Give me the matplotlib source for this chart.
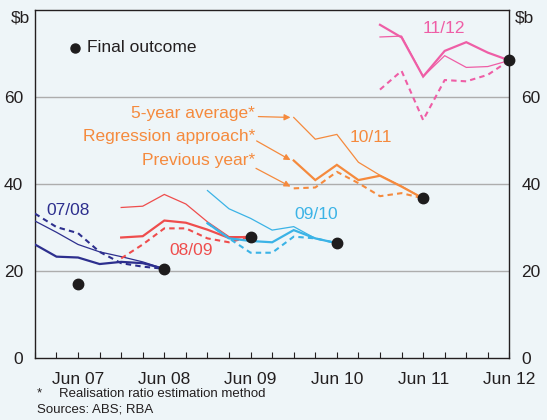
import matplotlib
matplotlib.use("Agg")
import matplotlib.pyplot as plt
import matplotlib.transforms as mtransforms

plt.rcParams['font.family'] = ['Liberation Sans', 'DejaVu Sans']

# ---------------- data ----------------
quarters = ['Dec-06', 'Mar-07', 'Jun-07', 'Sep-07', 'Dec-07', 'Mar-08', 'Jun-08',
            'Sep-08', 'Dec-08', 'Mar-09', 'Jun-09', 'Sep-09', 'Dec-09', 'Mar-10',
            'Jun-10', 'Sep-10', 'Dec-10', 'Mar-11', 'Jun-11', 'Sep-11', 'Dec-11',
            'Mar-12', 'Jun-12']
tick_labels = ['Jun 07', 'Jun 08', 'Jun 09', 'Jun 10', 'Jun 11', 'Jun 12']
tick_quarters = ['Jun-07', 'Jun-08', 'Jun-09', 'Jun-10', 'Jun-11', 'Jun-12']

fy0708_q = quarters[0:7]
fy0708_regression = [26.1, 23.3, 23.1, 21.6, 22.1, 21.8, 20.5]
fy0708_avg5 = [31.5, 28.9, 26.1, 24.4, 23.3, 22.1, 20.5]
fy0708_prev = [33.2, 30.1, 28.7, 24.4, 21.8, 21.0, 20.5]

fy0809_q = quarters[4:11]
fy0809_regression = [27.7, 28.0, 31.6, 31.1, 29.5, 27.6, 27.9]
fy0809_avg5 = [34.6, 34.9, 37.6, 35.4, 31.3, 27.9, 27.9]
fy0809_prev = [22.9, 26.1, 29.8, 29.8, 27.5, 26.6, 27.9]

fy0910_q = quarters[8:15]
fy0910_regression = [31.0, 27.5, 26.9, 26.6, 29.4, 27.5, 26.4]
fy0910_avg5 = [38.5, 34.3, 32.1, 29.4, 30.2, 27.5, 26.4]
fy0910_prev = [31.0, 27.5, 24.2, 24.2, 27.9, 27.5, 26.4]

fy1011_q = quarters[12:19]
fy1011_regression = [45.4, 40.9, 44.4, 40.9, 41.9, 39.4, 36.7]
fy1011_avg5 = [55.3, 50.3, 51.4, 45.0, 42.0, 39.5, 36.7]
fy1011_prev = [39.0, 39.2, 42.8, 40.2, 37.2, 37.9, 36.7]

fy1112_q = quarters[16:23]
fy1112_regression = [76.6, 73.7, 64.7, 70.6, 72.6, 70.2, 68.4]
fy1112_avg5 = [73.8, 74.0, 64.7, 69.5, 66.8, 67.0, 68.4]
fy1112_prev = [61.7, 66.0, 54.7, 63.9, 63.6, 65.1, 68.4]

final_q = ['Jun-07', 'Jun-08', 'Jun-09', 'Jun-10', 'Jun-11', 'Jun-12']
final_values = [16.9, 20.5, 27.9, 26.4, 36.7, 68.4]

# ---------------- style ----------------
BG = '#EEF5F8'
NAVY = '#2D2F8E'
RED = '#EF4D4D'
BLUE = '#3BB3E6'
ORANGE = '#F58A3D'
PINK = '#EE5EA6'
DOT = '#1E1C1D'
INK = '#231F20'

pos = {q: i for i, q in enumerate(quarters)}

fig = plt.figure(figsize=(5.47, 4.20), dpi=100, facecolor=BG)
ax = fig.add_axes([34.9 / 547, 62 / 420, 474.5 / 547, 348 / 420])
ax.set_facecolor(BG)

series = [
    (fy0708_q, fy0708_regression, fy0708_avg5, fy0708_prev, NAVY),
    (fy0809_q, fy0809_regression, fy0809_avg5, fy0809_prev, RED),
    (fy0910_q, fy0910_regression, fy0910_avg5, fy0910_prev, BLUE),
    (fy1011_q, fy1011_regression, fy1011_avg5, fy1011_prev, ORANGE),
    (fy1112_q, fy1112_regression, fy1112_avg5, fy1112_prev, PINK),
]

for qs, reg, avg, prev, col in series:
    xs = [pos[q] for q in qs]
    ax.plot(xs, avg, color=col, lw=0.9, solid_joinstyle='miter', zorder=3)
    ax.plot(xs, prev, color=col, lw=1.5, ls=(0, (2.6, 2.0)), zorder=3)
    ax.plot(xs, reg, color=col, lw=1.6, solid_joinstyle='miter', zorder=4)

ax.plot([pos[q] for q in final_q], final_values, 'o', color=DOT, ms=7.5,
        ls='none', zorder=6, clip_on=False)

# axes
ax.set_xlim(0, len(quarters) - 1)
ax.set_ylim(0, 80)
ax.set_yticks([0, 20, 40, 60])
ax.set_yticklabels(['0', '20', '40', '60'])
for y in [20, 40, 60]:
    ax.axhline(y, color='#ADADAD', lw=1.0, zorder=1)

label_map = dict(zip(tick_quarters, tick_labels))
ax.set_xticks(range(len(quarters)))
ax.set_xticklabels([label_map.get(q, '') for q in quarters])
ax.tick_params(axis='x', which='major', direction='in', length=4, width=0.8,
               color=INK, labelsize=12.5, pad=10, labelcolor=INK)
ax.tick_params(axis='y', which='both', left=False, right=False,
               labelleft=True, labelright=True, labelsize=12.5, pad=5,
               labelcolor=INK)
for sp in ax.spines.values():
    sp.set_color(INK)
    sp.set_linewidth(1.0)

trans_l = mtransforms.blended_transform_factory(ax.transAxes, ax.transData)
ax.text(-0.011, 78.2, '\\$b', transform=trans_l, ha='right', va='center',
        fontsize=12.5, color=INK)
ax.text(1.011, 78.2, '\\$b', transform=trans_l, ha='left', va='center',
        fontsize=12.5, color=INK)

# legend
ax.plot([0.0845], [0.891], 'o', color=DOT, ms=6.5, transform=ax.transAxes,
        clip_on=False)
ax.text(0.1098, 0.891, 'Final outcome', transform=ax.transAxes, ha='left',
        va='center', fontsize=12.5, color=INK)

# series labels
ax.text(1.53, 33.8, '07/08', color=NAVY, fontsize=12.5, ha='center', va='center')
ax.text(7.24, 24.8, '08/09', color=RED, fontsize=12.5, ha='center', va='center')
ax.text(13.03, 32.9, '09/10', color=BLUE, fontsize=12.5, ha='center', va='center')
ax.text(15.58, 50.6, '10/11', color=ORANGE, fontsize=12.5, ha='center', va='center')
ax.text(18.98, 75.7, '11/12', color=PINK, fontsize=12.5, ha='center', va='center')

# method annotations
ann = [
    ('5-year average*', 56.3, (10.36, 55.5), (11.85, 55.3)),
    ('Regression approach*', 51.0, (10.28, 49.9), (11.85, 45.5)),
    ('Previous year*', 45.5, (10.25, 43.6), (11.85, 39.4)),
]
for txt, ty, tail, head in ann:
    ax.text(10.2, ty, txt, color=ORANGE, fontsize=12.5, ha='right', va='center')
    ax.annotate('', xy=head, xytext=tail,
                arrowprops=dict(arrowstyle='-|>', color=ORANGE, lw=0.9,
                                mutation_scale=9, shrinkA=0, shrinkB=0))

# footnotes
fig.text(37 / 547, 1 - 393 / 420, '*', fontsize=9.5, color=INK,
         ha='left', va='center')
fig.text(59 / 547, 1 - 394 / 420, 'Realisation ratio estimation method',
         fontsize=9.5, color=INK, ha='left', va='center')
fig.text(37 / 547, 1 - 410 / 420, 'Sources: ABS; RBA', fontsize=9.5,
         color=INK, ha='left', va='center')

fig.savefig('out.png', dpi=100, facecolor=BG)
